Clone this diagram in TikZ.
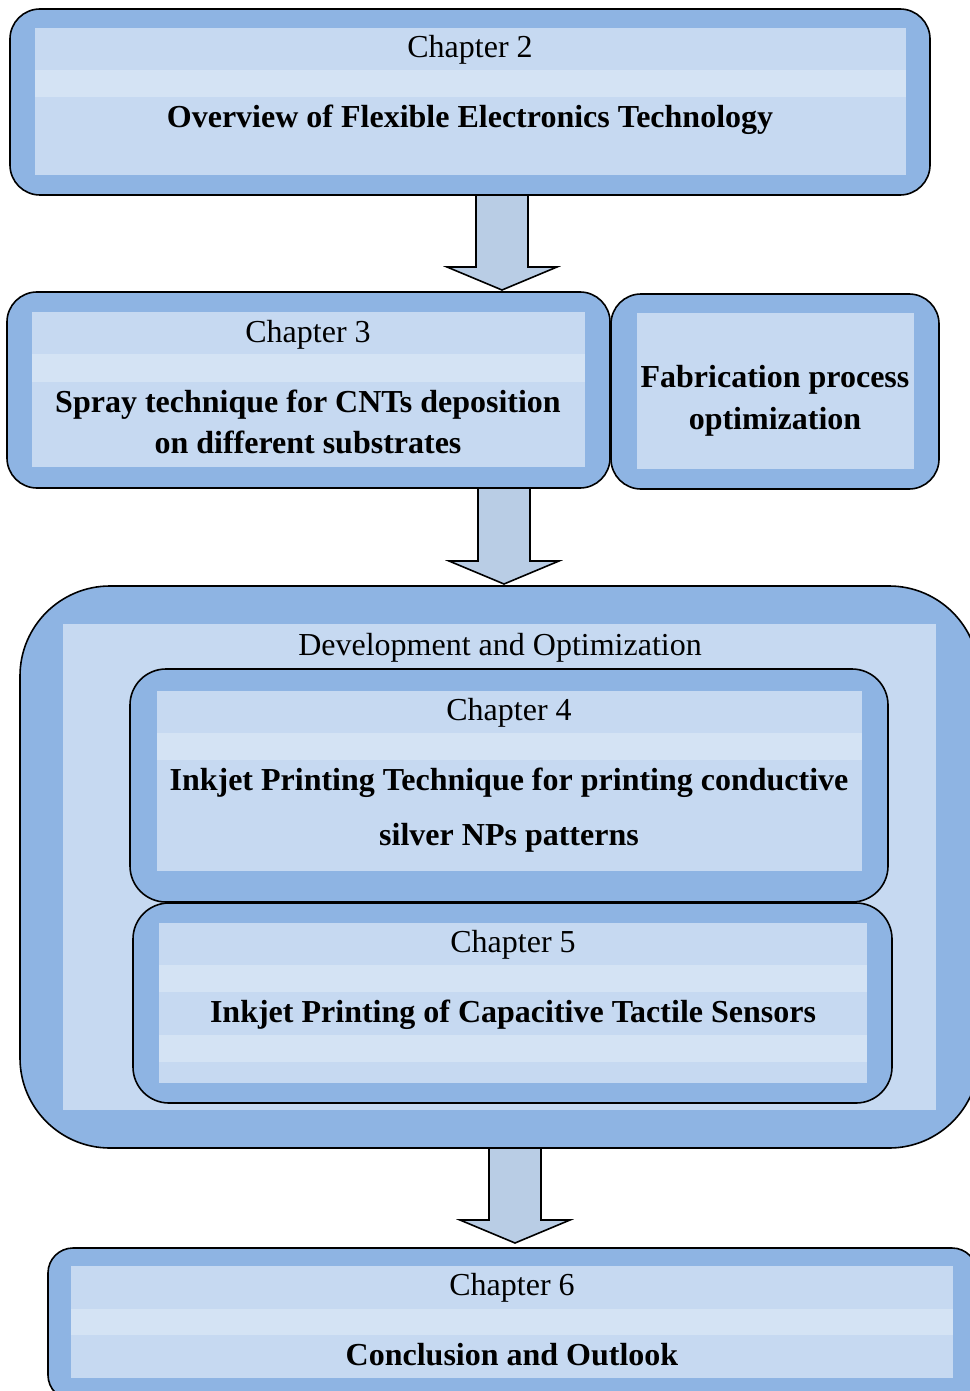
\documentclass[tikz,border=0pt]{standalone}
\usepackage{fontspec}
\setmainfont{Liberation Serif}
\usepackage{xcolor}
\usetikzlibrary{calc, fit}

\definecolor{frameblue}{HTML}{8EB4E3}
\definecolor{panelblue}{HTML}{C6D9F1}
\definecolor{bandblue}{HTML}{D4E3F4}
\definecolor{arrowblue}{HTML}{B9CDE5}

\begin{document}
\begin{tikzpicture}[
    x=0.5pt, y=-0.5pt,
    chapframe/.style={draw=black, line width=0.8pt, fill=frameblue, rounded corners=#1, inner sep=0pt, outer sep=0pt},
    chapframe/.default=15pt,
    panel/.style={fill=panelblue, inner sep=0pt, outer sep=0pt},
    band/.style={fill=bandblue, inner sep=0pt, outer sep=0pt},
    chap/.style={font=\fontsize{16}{19}\selectfont, anchor=base, inner sep=0pt},
    title/.style={font=\fontsize{16}{19}\selectfont\bfseries, anchor=base, inner sep=0pt},
    blockarrow/.style={draw=black, line width=0.8pt, fill=arrowblue,
        to path={let \p1=(\tikztostart), \p2=(\tikztotarget) in
            (\x1-13pt,\y1) -- (\x1-13pt,\y2+11.5pt) -- (\x1-27.5pt,\y2+11.5pt) -- (\x1,\y2)
            -- (\x1+27.5pt,\y2+11.5pt) -- (\x1+13pt,\y2+11.5pt) -- (\x1+13pt,\y1) -- cycle}}
]
\useasboundingbox (0,0) rectangle (969,1391);

% Chapter 2
\node[chapframe, fit={(10,9) (930,195)}] (ch2) {};
\node[panel, fit={(35,28) (906,175)}] (ch2panel) {};
\node[band, fit={(35,70) (906,97)}] (ch2band) {};
\node[chap] (ch2num) at (470,58) {Chapter 2};
\node[title] (ch2title) at (470,128) {Overview of Flexible Electronics Technology};

% Chapter 3 and fabrication side box
\node[chapframe, fit={(7,292) (610,488)}] (ch3) {};
\node[panel, fit={(32,312) (585,467)}] (ch3panel) {};
\node[band, fit={(32,354) (585,382)}] (ch3band) {};
\node[chap] (ch3num) at (308,342) {Chapter 3};
\node[title] (ch3a) at (308,412) {Spray technique for CNTs deposition};
\node[title] (ch3b) at (308,453) {on different substrates};

\node[chapframe, fit={(611,294) (939,489)}] (fab) {};
\node[panel, fit={(637,313) (914,469)}] (fabpanel) {};
\node[title] (faba) at (775,387) {Fabrication process};
\node[title] (fabb) at (775,429) {optimization};

% Development block with chapters 4 and 5
\node[chapframe=45pt, fit={(20,586) (979,1148)}] (dev) {};
\node[panel, fit={(63,624) (936,1110)}] (devpanel) {};
\node[chap] (devlabel) at (500,655) {Development and Optimization};

\node[chapframe=18pt, fit={(130,669) (888,902)}] (ch4) {};
\node[panel, fit={(157,691) (862,871)}] (ch4panel) {};
\node[band, fit={(157,733) (862,760)}] (ch4band) {};
\node[chap] (ch4num) at (509,720) {Chapter 4};
\node[title] (ch4a) at (509,790) {Inkjet Printing Technique for printing conductive};
\node[title] (ch4b) at (509,845) {silver NPs patterns};

\node[chapframe=18pt, fit={(133,903) (892,1103)}] (ch5) {};
\node[panel, fit={(159,923) (867,1083)}] (ch5panel) {};
\node[band, fit={(159,965) (867,992)}] (ch5banda) {};
\node[band, fit={(159,1035) (867,1062)}] (ch5bandb) {};
\node[chap] (ch5num) at (513,952) {Chapter 5};
\node[title] (ch5title) at (513,1022) {Inkjet Printing of Capacitive Tactile Sensors};

% Chapter 6
\node[chapframe=12.5pt, fit={(48,1248) (977,1400)}] (ch6) {};
\node[panel, fit={(71,1266) (953,1378)}] (ch6panel) {};
\node[band, fit={(71,1309) (953,1335)}] (ch6band) {};
\node[chap] (ch6num) at (512,1295) {Chapter 6};
\node[title] (ch6title) at (512,1365) {Conclusion and Outlook};

% Block arrows
\coordinate (tip1) at (502,290);
\coordinate (tip2) at (504,584);
\coordinate (tip3) at (515,1243);
\draw[blockarrow] (ch2.south -| tip1) to (tip1);
\draw[blockarrow] (ch3.south -| tip2) to (tip2);
\draw[blockarrow] (dev.south -| tip3) to (tip3);

\end{tikzpicture}
\end{document}
